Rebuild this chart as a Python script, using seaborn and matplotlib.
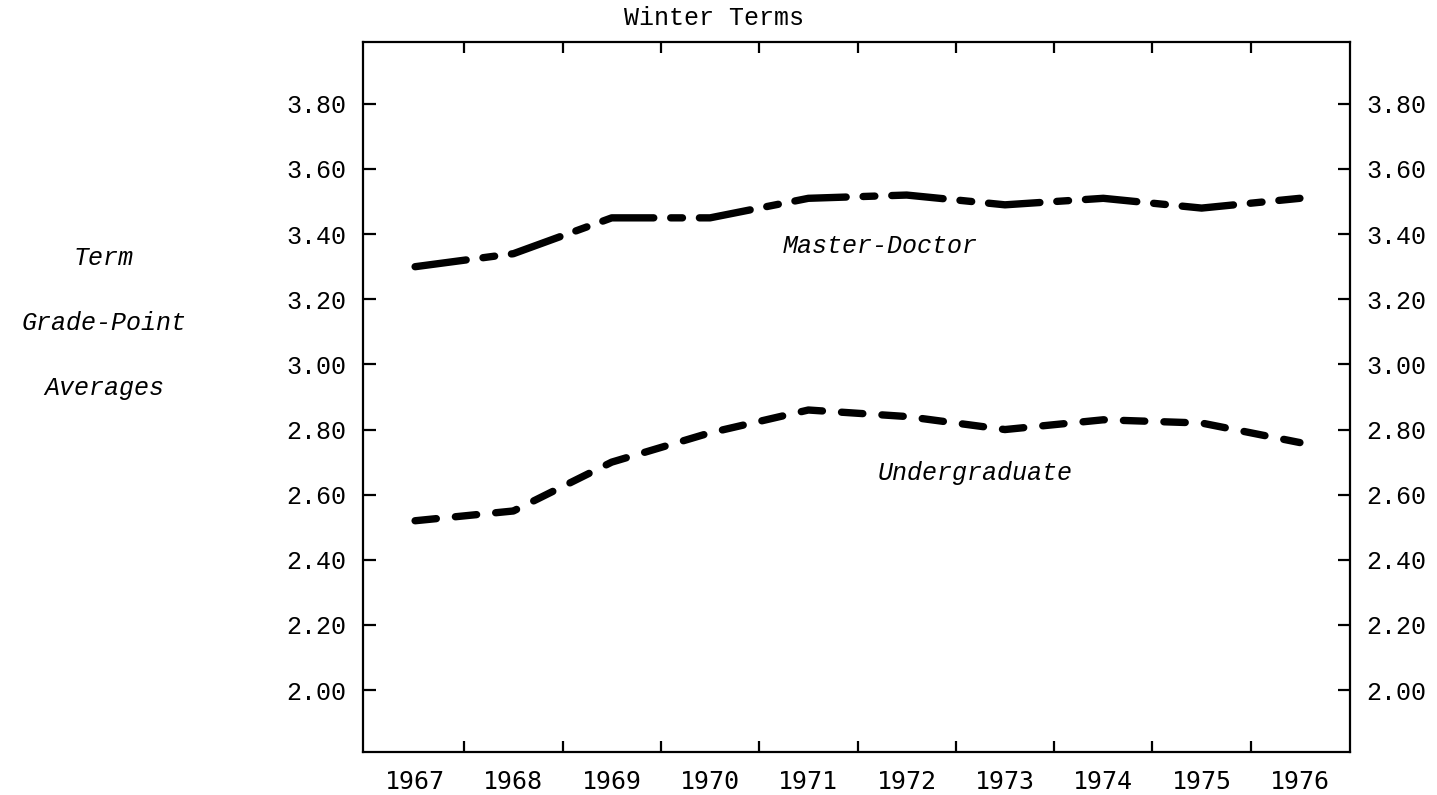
import matplotlib
matplotlib.use("Agg")
import matplotlib.pyplot as plt
import seaborn as sns
import pandas as pd

# winter-term grade point averages
years = [1967, 1968, 1969, 1970, 1971, 1972, 1973, 1974, 1975, 1976]
master_doctor = [3.30, 3.34, 3.45, 3.45, 3.51, 3.52, 3.49, 3.51, 3.48, 3.51]
undergraduate = [2.52, 2.55, 2.70, 2.79, 2.86, 2.84, 2.80, 2.83, 2.82, 2.76]
gpa_ticks = [2.00, 2.20, 2.40, 2.60, 2.80, 3.00, 3.20, 3.40, 3.60, 3.80]

sns.set_theme(style="white")
plt.rcParams['font.family'] = ['Liberation Mono', 'DejaVu Sans Mono']
plt.rcParams['text.color'] = 'black'
plt.rcParams['xtick.color'] = 'black'
plt.rcParams['ytick.color'] = 'black'

df = pd.DataFrame({'year': years, 'md': master_doctor, 'ug': undergraduate})

fig = plt.figure(figsize=(14.37, 7.95), dpi=100)
ax = fig.add_axes([0.2526, 0.0541, 0.6869, 0.8931])

sns.lineplot(data=df, x='year', y='md', ax=ax, color='black', lw=5.3,
             linestyle=(0, (7, 2.3, 1.6, 2.3)), dash_capstyle='round')
sns.lineplot(data=df, x='year', y='ug', ax=ax, color='black', lw=5.3,
             linestyle=(0, (2.9, 2.6)), dash_capstyle='round')

ax.set_xlim(1966.47, 1976.51)
ax.set_ylim(1.81, 3.99)

# tick marks sit between the years, year labels under each year
ax.set_xticks([y + 0.5 for y in years[:-1]])
ax.set_xticklabels([])
ax.set_xticks(years, minor=True)
ax.set_xticklabels([str(y) for y in years], minor=True,
                   fontfamily='DejaVu Sans Mono', fontsize=18)
ax.tick_params(axis='x', which='minor', length=0, pad=13)
ax.tick_params(axis='x', which='major', direction='in', length=8, width=1.6,
               top=True, bottom=True, color='black')

ax.set_yticks(gpa_ticks)
ax.set_yticklabels([f'{v:.2f}' for v in gpa_ticks], fontsize=18)
ax.tick_params(axis='y', direction='in', length=9, width=1.6, left=True,
               right=True, labelleft=True, labelright=True, pad=12,
               color='black')

for s in ax.spines.values():
    s.set_color('black')
    s.set_linewidth(1.6)

ax.set_xlabel('')
ax.set_ylabel('')

ax.text(1971.73, 3.365, 'Master-Doctor', style='italic', fontsize=18,
        ha='center', va='center')
ax.text(1972.70, 2.666, 'Undergraduate', style='italic', fontsize=18,
        ha='center', va='center')

fig.text(714 / 1437, 1 - 18 / 795, 'Winter Terms', fontsize=18,
         ha='center', va='center')
for label, yy in [('Term', 258), ('Grade-Point', 323), ('Averages', 388)]:
    fig.text(104 / 1437, 1 - yy / 795, label, style='italic', fontsize=18,
             ha='center', va='center')

fig.savefig('out.png', dpi=100)
